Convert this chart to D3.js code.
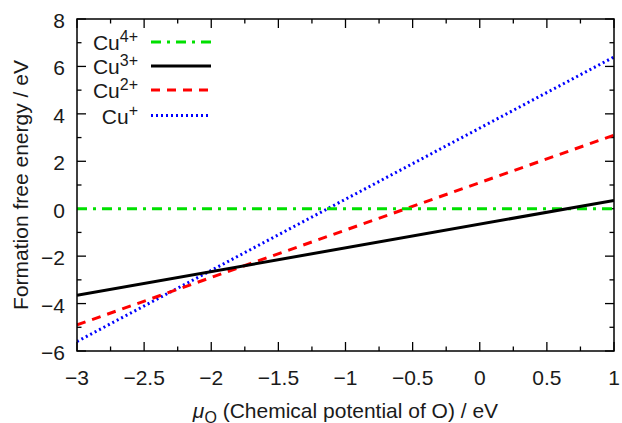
<!DOCTYPE html>
<html>
<head>
<meta charset="utf-8">
<script src="https://cdn.jsdelivr.net/npm/d3@7"></script>
<style>
  body { margin: 0; background: #fff; }
  text { font-family: "Liberation Sans", Arial, sans-serif; fill: #1a1a1a; }
</style>
</head>
<body>
<div id="chart"></div>
<script>
// chemical potential of O (end points of each line)
var muO = [-3, 1];

// formation free energy of each charge state at those end points
var cu4 = [0, 0];
var cu3 = [-3.65, 0.35];
var cu2 = [-4.9, 3.1];
var cu1 = [-5.6, 6.4];

var seriesNames = ["Cu4+", "Cu3+", "Cu2+", "Cu+"];
var xTicks = [-3, -2.5, -2, -1.5, -1, -0.5, 0, 0.5, 1];
var yTicks = [-6, -4, -2, 0, 2, 4, 6, 8];

// ---- canvas ----
var W = 622, H = 423;
var margin = {top: 19, right: 8, bottom: 72, left: 77},
    width = W - margin.left - margin.right,
    height = H - margin.top - margin.bottom;

var svg = d3.select("#chart")
  .append("svg")
    .attr("width", W)
    .attr("height", H);

var g = svg.append("g")
    .attr("transform", "translate(" + margin.left + "," + margin.top + ")");

var xScale = d3.scaleLinear().domain([-3, 1]).range([0, width]);
var yScale = d3.scaleLinear().domain([-6, 8]).range([height, 0]);

g.append("clipPath").attr("id", "clip")
  .append("rect").attr("width", width).attr("height", height);

// ---- ticks (inward, mirrored on all sides) ----
var fmt = function(d) { return d3.format("")(d).replace("-", "\u2212"); };
var majorLen = 9, minorLen = 4.5;
var xMinor = d3.range(-3, 1.001, 0.25).filter(d => Math.abs(d * 2 - Math.round(d * 2)) > 0.01);
var yMinor = d3.range(-5, 8, 2);

var tickG = g.append("g").attr("stroke", "#000").attr("stroke-width", 1.3);
xTicks.forEach(d => {
  tickG.append("line").attr("x1", xScale(d)).attr("x2", xScale(d)).attr("y1", height).attr("y2", height - majorLen);
  tickG.append("line").attr("x1", xScale(d)).attr("x2", xScale(d)).attr("y1", 0).attr("y2", majorLen);
});
xMinor.forEach(d => {
  tickG.append("line").attr("x1", xScale(d)).attr("x2", xScale(d)).attr("y1", height).attr("y2", height - minorLen);
  tickG.append("line").attr("x1", xScale(d)).attr("x2", xScale(d)).attr("y1", 0).attr("y2", minorLen);
});
yTicks.forEach(d => {
  tickG.append("line").attr("y1", yScale(d)).attr("y2", yScale(d)).attr("x1", 0).attr("x2", majorLen);
  tickG.append("line").attr("y1", yScale(d)).attr("y2", yScale(d)).attr("x1", width).attr("x2", width - majorLen);
});
yMinor.forEach(d => {
  tickG.append("line").attr("y1", yScale(d)).attr("y2", yScale(d)).attr("x1", 0).attr("x2", minorLen);
  tickG.append("line").attr("y1", yScale(d)).attr("y2", yScale(d)).attr("x1", width).attr("x2", width - minorLen);
});

// tick labels
g.append("g").selectAll("text").data(xTicks).enter().append("text")
  .attr("x", d => xScale(d))
  .attr("y", height + 34)
  .attr("text-anchor", "middle")
  .attr("font-size", 21)
  .text(fmt);

g.append("g").selectAll("text").data(yTicks).enter().append("text")
  .attr("x", -12)
  .attr("y", d => yScale(d) + 9)
  .attr("text-anchor", "end")
  .attr("font-size", 21)
  .text(fmt);

// ---- lines ----
var series = [
  {name: "Cu4+", vals: cu4, color: "#00e000", dash: "10,6,3,6"},
  {name: "Cu3+", vals: cu3, color: "#000000", dash: null},
  {name: "Cu2+", vals: cu2, color: "#ff0000", dash: "9,7"},
  {name: "Cu+",  vals: cu1, color: "#0000ff", dash: "2,3"}
];

var line = d3.line()
  .x((d, i) => xScale(muO[i]))
  .y(d => yScale(d));

// draw Cu+ first so black sits on top like the original
[3, 2, 0, 1].forEach(i => {
  var s = series[i];
  g.append("path")
    .attr("d", line(s.vals))
    .attr("clip-path", "url(#clip)")
    .attr("fill", "none")
    .attr("stroke", s.color)
    .attr("stroke-width", 3)
    .attr("stroke-dasharray", s.dash);
});

// frame
g.append("rect")
  .attr("width", width).attr("height", height)
  .attr("fill", "none").attr("stroke", "#000").attr("stroke-width", 1.5);

// ---- legend ----
var legY = [42, 66, 90, 115.5];
series.forEach((s, i) => {
  var t = svg.append("text")
    .attr("x", 138)
    .attr("y", legY[i] + 8)
    .attr("text-anchor", "end")
    .attr("font-size", 21);
  t.append("tspan").text("Cu");
  t.append("tspan").attr("dy", -8).attr("font-size", 16).text(s.name.slice(2));
  svg.append("line")
    .attr("x1", 151).attr("x2", 211)
    .attr("y1", legY[i]).attr("y2", legY[i])
    .attr("stroke", s.color)
    .attr("stroke-width", 3)
    .attr("stroke-dasharray", s.dash);
});

// ---- axis titles ----
var xl = svg.append("text")
  .attr("x", margin.left + width / 2)
  .attr("y", 418)
  .attr("text-anchor", "middle")
  .attr("font-size", 21);
xl.append("tspan").attr("font-style", "italic").text("\u03bc");
xl.append("tspan").attr("dy", 5).attr("font-size", 16).text("O");
xl.append("tspan").attr("dy", -5).text(" (Chemical potential of O) / eV");

svg.append("text")
  .attr("transform", "translate(28," + (margin.top + height / 2) + ") rotate(-90)")
  .attr("text-anchor", "middle")
  .attr("font-size", 21)
  .text("Formation free energy / eV");
</script>
</body>
</html>
